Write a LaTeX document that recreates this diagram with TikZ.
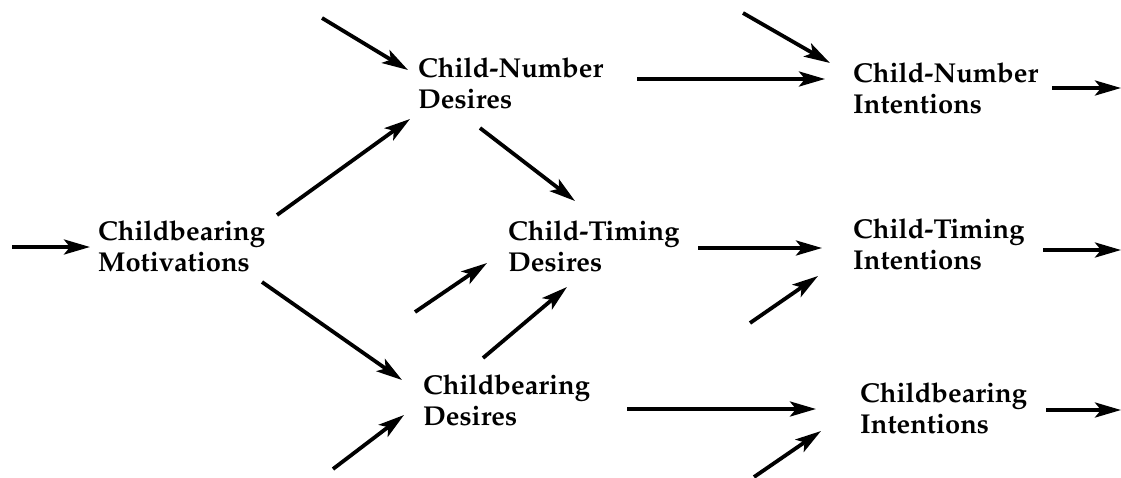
\documentclass[tikz,border=0pt]{standalone}
\usepackage[T1]{fontenc}
\usepackage{mathpazo}
\usetikzlibrary{arrows.meta}
\begin{document}
\begin{tikzpicture}[x=1pt,y=-1pt,
  lbl/.style={anchor=base west,inner sep=0pt,align=left,
    font=\fontsize{27.3}{31}\selectfont\bfseries},
  arr/.style={line width=3.8pt,-{Stealth[length=26pt,width=15pt,inset=6pt]}}]
\useasboundingbox (0,0) rectangle (1121,477);
% nodes (anchor = baseline of the last line)
\node[lbl] (cm)  at (98,271)  {Childbearing\\Motivations};
\node[lbl] (cnd) at (418,108) {Child-Number\\Desires};
\node[lbl] (ctd) at (508,271) {Child-Timing\\Desires};
\node[lbl] (cbd) at (423,425) {Childbearing\\Desires};
\node[lbl] (cni) at (853,113) {Child-Number\\Intentions};
\node[lbl] (cti) at (853,269) {Child-Timing\\Intentions};
\node[lbl] (cbi) at (860,433) {Childbearing\\Intentions};
% free ends
\coordinate (inCM)  at (12,247);
\coordinate (inCND) at (322,18);
\coordinate (inCNI) at (743,13);
\coordinate (inCTD) at (415,312);
\coordinate (inCTI) at (750,323);
\coordinate (inCBD) at (333,469);
\coordinate (inCBI) at (754,477);
\coordinate (outCNI) at (1121,88);
\coordinate (outCTI) at (1121,250);
\coordinate (outCBI) at (1121,410);
% connectors
\draw[arr] (inCM) -- ([shift={(-8,-24)}]cm.base west);
\draw[arr] ([shift={(179,-56)}]cm.base west) -- ([shift={(-8,11)}]cnd.base west);
\draw[arr] ([shift={(164,11)}]cm.base west) -- ([shift={(-21,-45)}]cbd.base west);
\draw[arr] (inCND) -- ([shift={(-10,-38)}]cnd.base west);
\draw[arr] ([shift={(62,20)}]cnd.base west) -- ([shift={(67,-70)}]ctd.base west);
\draw[arr] ([shift={(219,-29)}]cnd.base west) -- ([shift={(-28,-34)}]cni.base west);
\draw[arr] (inCNI) -- ([shift={(-23,-50)}]cni.base west);
\draw[arr] ([shift={(199,-25)}]cni.base west) -- (outCNI);
\draw[arr] (inCTD) -- ([shift={(-21,-8)}]ctd.base west);
\draw[arr] ([shift={(60,-67)}]cbd.base west) -- ([shift={(59,16)}]ctd.base west);
\draw[arr] ([shift={(190,-23)}]ctd.base west) -- ([shift={(-31,-21)}]cti.base west);
\draw[arr] (inCTI) -- ([shift={(-35,7)}]cti.base west);
\draw[arr] ([shift={(190,-19)}]cti.base west) -- (outCTI);
\draw[arr] (inCBD) -- ([shift={(-19,-10)}]cbd.base west);
\draw[arr] ([shift={(204,-16)}]cbd.base west) -- ([shift={(-44,-24)}]cbi.base west);
\draw[arr] (inCBI) -- ([shift={(-39,-2)}]cbi.base west);
\draw[arr] ([shift={(186,-23)}]cbi.base west) -- (outCBI);
\end{tikzpicture}
\end{document}
